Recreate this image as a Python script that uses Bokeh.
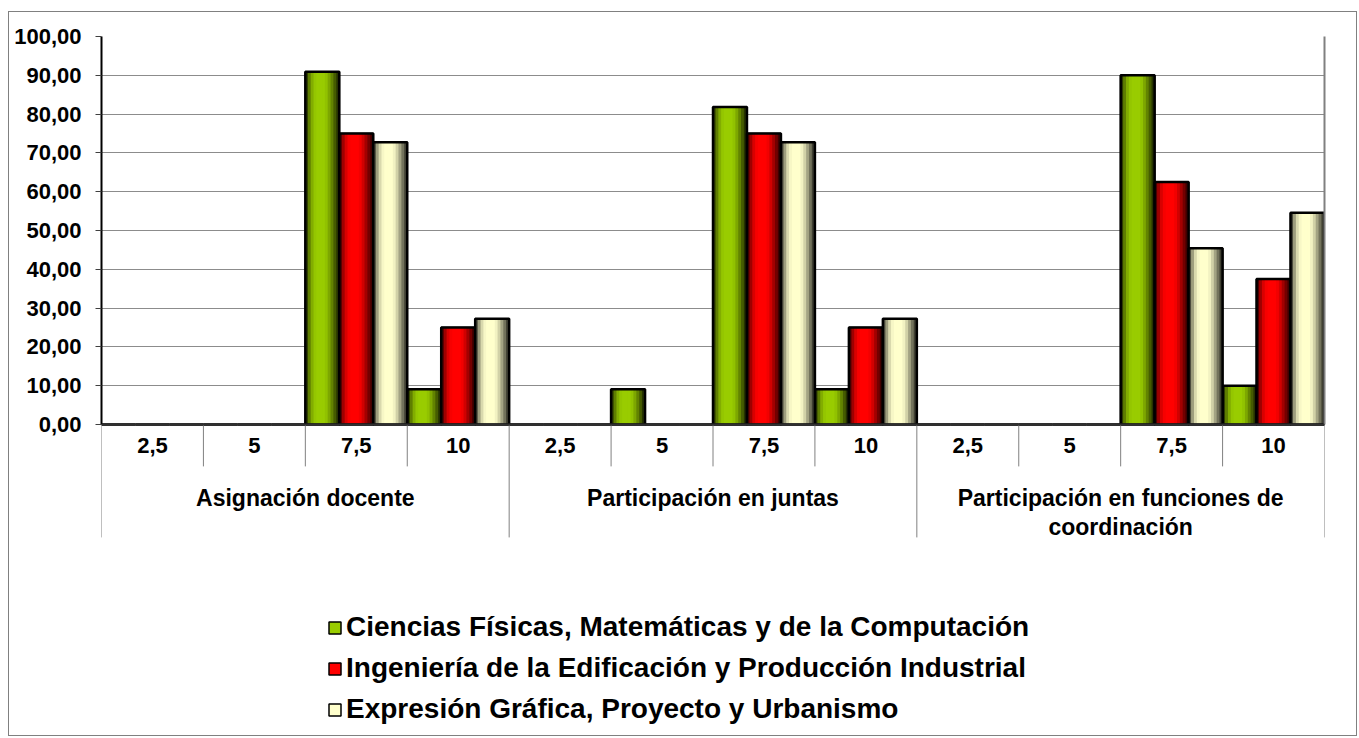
from bokeh.plotting import figure
from bokeh.models import (FactorRange, Range1d, ColumnDataSource, FixedTicker,
                          LinearAxis, Span, Legend, LegendItem)
from bokeh.transform import dodge
from bokeh.core.properties import value
from bokeh.embed import file_html
from bokeh.resources import INLINE

# ---------------- data ----------------
groups = ["Asignación docente", "Participación en juntas",
          "Participación en funciones de coordinación"]
group_labels = ["Asignación docente", "Participación en juntas",
                "Participación en funciones de\ncoordinación"]
scores = ["2,5", "5", "7,5", "10"]
series_names = ["Ciencias Físicas, Matemáticas y de la Computación",
                "Ingeniería de la Edificación y Producción Industrial",
                "Expresión Gráfica, Proyecto y Urbanismo"]
ciencias = [0, 0, 90.91, 9.09, 0, 9.09, 81.82, 9.09, 0, 0, 90.00, 10.00]
ingenieria = [0, 0, 75.00, 25.00, 0, 0, 75.00, 25.00, 0, 0, 62.50, 37.50]
expresion = [0, 0, 72.73, 27.27, 0, 0, 72.73, 27.27, 0, 0, 45.45, 54.55]
y_ticks = [0, 10, 20, 30, 40, 50, 60, 70, 80, 90, 100]
y_tick_labels = ["0,00", "10,00", "20,00", "30,00", "40,00", "50,00",
                 "60,00", "70,00", "80,00", "90,00", "100,00"]

# ---------------- styles ----------------
base_colors = [(153, 204, 0), (255, 0, 0), (255, 255, 204)]
shade_profile = [0.30, 0.62, 0.85, 0.97, 1.0, 1.0, 1.0, 0.95, 0.82, 0.64, 0.45, 0.25]
FONT = value("Liberation Sans")

factors = [(g, s) for g in groups for s in scores]

source = ColumnDataSource(data=dict(
    x=factors, s0=ciencias, s1=ingenieria, s2=expresion,
    lab=[s for g in groups for s in scores]))

p = figure(width=1349, height=725, output_backend="svg", toolbar_location=None,
           x_range=FactorRange(*factors, factor_padding=0, group_padding=0,
                               subgroup_padding=0, range_padding=0),
           y_range=Range1d(-80.67, 100), x_axis_location=None,
           min_border_left=92, min_border_top=24, min_border_right=34,
           min_border_bottom=0, outline_line_color=None,
           background_fill_color="white", border_fill_color="white")
p.styles = {"border": "1px solid #808080", "margin-left": "8px",
            "margin-top": "11px"}

# y axis
ax = p.yaxis[0]
ax.ticker = FixedTicker(ticks=y_ticks)
ax.bounds = (0, 100)
ax.major_label_overrides = {t: l for t, l in zip(y_ticks, y_tick_labels)}
ax.major_label_text_font = "Liberation Sans"
ax.major_label_text_font_style = "bold"
ax.major_label_text_font_size = "22px"
ax.major_label_text_color = "black"
ax.major_label_standoff = 14
ax.axis_line_color = "black"
ax.axis_line_width = 2
ax.major_tick_line_color = "#404040"
ax.major_tick_out = 6
ax.major_tick_in = 0
ax.minor_tick_line_color = None

p.ygrid.ticker = FixedTicker(ticks=y_ticks)
p.ygrid.grid_line_color = "#8c8c8c"
p.xgrid.grid_line_color = None

rax = LinearAxis(ticker=FixedTicker(ticks=[]), bounds=(0, 100),
                 axis_line_color="#808080", axis_line_width=2,
                 major_label_text_font_size="0px", major_tick_line_color=None,
                 minor_tick_line_color=None)
p.add_layout(rax, "right")

# bars
bw = 1.0 / 3
n = len(shade_profile)
sw = bw / n
legend_items = []
for i, (col, rgb) in enumerate(zip(["s0", "s1", "s2"], base_colors)):
    center = (i - 1) * bw
    base = p.vbar(x=dodge("x", center, range=p.x_range), top=col, bottom=0,
                  width=bw, source=source,
                  fill_color="#%02x%02x%02x" % rgb, line_color="black",
                  line_width=1.5)
    legend_items.append(LegendItem(label=series_names[i], renderers=[base]))
    for k, f in enumerate(shade_profile):
        off = center - bw / 2 + (k + 0.5) * sw
        c = "#%02x%02x%02x" % tuple(int(round(v * f)) for v in rgb)
        p.vbar(x=dodge("x", off, range=p.x_range), top=col, bottom=0,
               width=sw * 1.2, source=source, fill_color=c, line_color=None)
    p.vbar(x=dodge("x", center, range=p.x_range), top=col, bottom=0,
           width=bw, source=source, fill_color=None, line_color="black",
           line_width=2.5)

p.add_layout(Span(location=0, dimension="width", line_color="#303030",
                  line_width=2))

# category separators
sub_src = ColumnDataSource(data=dict(x=[f for f in factors if f[1] != scores[0]]))
p.segment(x0=dodge("x", -0.5, range=p.x_range), x1=dodge("x", -0.5, range=p.x_range),
          y0=0, y1=-10.8, source=sub_src, line_color="#808080", line_width=1)
grp_src = ColumnDataSource(data=dict(x=[(g, scores[0]) for g in groups]))
p.segment(x0=dodge("x", -0.5, range=p.x_range), x1=dodge("x", -0.5, range=p.x_range),
          y0=0, y1=-29.1, source=grp_src, line_color="#808080", line_width=1)
end_src = ColumnDataSource(data=dict(x=[factors[-1]]))
p.segment(x0=dodge("x", 0.5, range=p.x_range), x1=dodge("x", 0.5, range=p.x_range),
          y0=0, y1=-29.1, source=end_src, line_color="#808080", line_width=1)

# category labels
p.text(x="x", y=-5.4, text="lab", source=source, text_align="center",
       text_baseline="middle", text_font=FONT, text_font_style="bold",
       text_font_size="22px", text_color="black")
gsrc = ColumnDataSource(data=dict(x=groups, lab=group_labels))
p.text(x="x", y=-15.6, text="lab", source=gsrc, text_align="center",
       text_baseline="top", text_font=FONT, text_font_style="bold",
       text_font_size="23px", text_color="black", text_line_height=1.1)

legend = Legend(items=legend_items, location=(226, 12), orientation="vertical",
                label_text_font="Liberation Sans", label_text_font_style="bold",
                label_text_font_size="28px", label_text_color="black",
                glyph_width=15, glyph_height=15, label_standoff=4,
                label_height=30, spacing=9, padding=0, margin=0,
                border_line_color=None, background_fill_color=None)
p.add_layout(legend, "center")

open("out.html", "w").write(file_html(p, INLINE))
